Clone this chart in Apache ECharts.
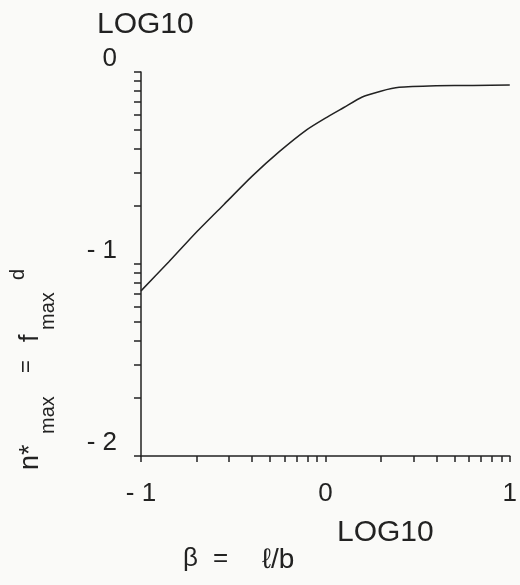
<!DOCTYPE html>
<html>
<head>
<meta charset="utf-8">
<script src="https://cdn.jsdelivr.net/npm/echarts@6/dist/echarts.min.js"></script>
<style>
  html, body { margin: 0; padding: 0; background: #fafaf8; }
</style>
</head>
<body>
<div id="main" style="width:520px;height:585px"></div>
<script>
// log10(beta) and log10(n*max)
const logBeta = [-1, -0.85, -0.7, -0.55, -0.4, -0.25, -0.1, 0, 0.1, 0.2, 0.3, 0.4, 0.6, 0.8, 1];
const logNmax = [-1.14, -0.99, -0.835, -0.69, -0.545, -0.415, -0.30, -0.24, -0.185, -0.13, -0.10, -0.08, -0.072, -0.07, -0.068];

const xMajor = [-1, 0, 1];
const yMajor = [-2, -1, 0];
const mantissa = [2, 3, 4, 5, 6, 7, 8, 9]; // log-decade minor ticks

const ink = '#222';
const font = 'Liberation Sans';

function decadeTicks(majors) {
  let t = majors.slice();
  for (let i = 0; i < majors.length - 1; i++) {
    mantissa.forEach(m => t.push(majors[i] + Math.log10(m)));
  }
  return t.sort((a, b) => a - b);
}

const myChart = echarts.init(document.getElementById('main'));

let option = {
  backgroundColor: '#fafaf8',
  animation: false,
  grid: { left: 141, right: 5, top: 72, bottom: 129 },
  xAxis: {
    type: 'value', min: -1, max: 1, interval: 1,
    axisLine: { onZero: false, lineStyle: { color: ink, width: 1.5 } },
    axisTick: { show: true, length: 6, customValues: decadeTicks(xMajor), lineStyle: { color: ink, width: 1.5 } },
    axisLabel: {
      customValues: xMajor, margin: 25, color: ink, fontFamily: font, fontSize: 26,
      formatter: v => (v < 0 ? '- ' + (-v) : String(v))
    },
    splitLine: { show: false }
  },
  yAxis: {
    type: 'value', min: -2, max: 0, interval: 1,
    axisLine: { onZero: false, lineStyle: { color: ink, width: 1.5 } },
    axisTick: { show: true, length: 7, customValues: decadeTicks(yMajor), lineStyle: { color: ink, width: 1.5 } },
    axisLabel: {
      customValues: yMajor, margin: 24, color: ink, fontFamily: font, fontSize: 26,
      verticalAlign: 'bottom',
      formatter: v => (v < 0 ? '- ' + (-v) : String(v))
    },
    splitLine: { show: false }
  },
  series: [{
    type: 'line',
    data: logBeta.map((x, i) => [x, logNmax[i]]),
    showSymbol: false,
    smooth: 0.2,
    lineStyle: { color: ink, width: 1.5 },
    clip: false
  }],
  graphic: [
    { type: 'text', left: 97, top: 10, style: { text: 'LOG10', fill: ink, font: '30px "Liberation Sans"' } },
    { type: 'text', left: 337, top: 518, style: { text: 'LOG10', fill: ink, font: '30px "Liberation Sans"' } },
    { type: 'text', left: 183, top: 546, style: { text: 'β', fill: ink, font: '26px "Liberation Sans"' } },
    { type: 'text', left: 213, top: 546, style: { text: '=', fill: ink, font: '26px "Liberation Sans"' } },
    { type: 'text', left: 262, top: 546, style: { text: 'ℓ/b', fill: ink, font: '28px "Liberation Sans"' } },
    {
      // rotated y title: n*max = fmax d
      type: 'group', x: 39, y: 470, rotation: Math.PI / 2,
      children: [
        { type: 'text', x: 0, y: 5, style: { text: 'n*', fill: ink, font: '27px "Liberation Sans"', verticalAlign: 'bottom' } },
        { type: 'text', x: 36, y: 19, style: { text: 'max', fill: ink, font: '20px "Liberation Sans"', verticalAlign: 'bottom' } },
        { type: 'text', x: 97, y: -12, style: { text: '=', fill: ink, font: '22px "Liberation Sans"', verticalAlign: 'middle' } },
        { type: 'text', x: 128, y: 5, style: { text: 'f', fill: ink, font: '27px "Liberation Sans"', verticalAlign: 'bottom' } },
        { type: 'text', x: 140, y: 19, style: { text: 'max', fill: ink, font: '20px "Liberation Sans"', verticalAlign: 'bottom' } },
        { type: 'text', x: 190, y: -11, style: { text: 'd', fill: ink, font: '20px "Liberation Sans"', verticalAlign: 'bottom' } }
      ]
    }
  ]
};

option && myChart.setOption(option);
</script>
</body>
</html>
